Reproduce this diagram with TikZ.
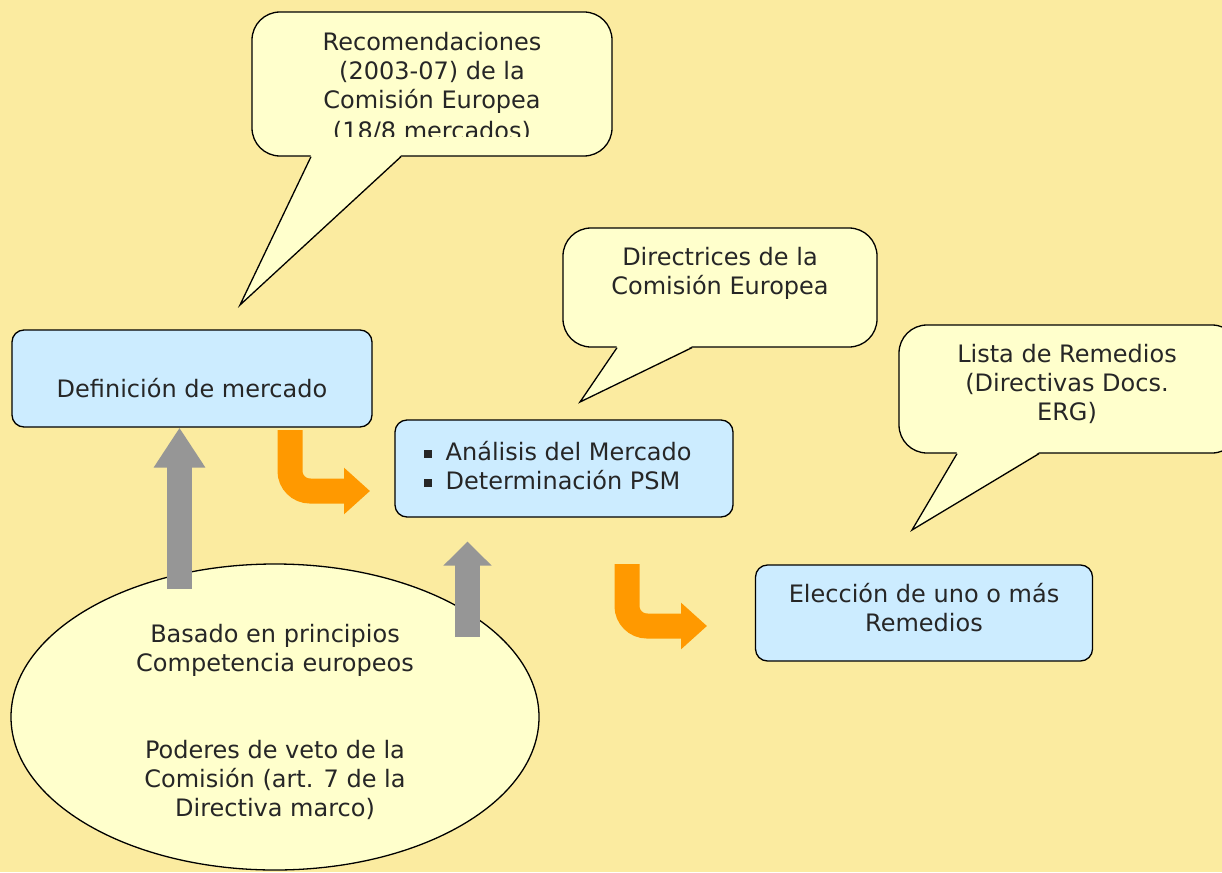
\documentclass[tikz,border=0pt]{standalone}
\usepackage{fontspec}
\setmainfont{DejaVu Sans}
\usepackage{tikz}
\usetikzlibrary{arrows.meta,calc,shapes.geometric}
\definecolor{bgyellow}{HTML}{FBEBA0}
\definecolor{callyellow}{HTML}{FFFFCC}
\definecolor{boxblue}{HTML}{CCECFF}
\definecolor{arrgray}{HTML}{969696}
\definecolor{arrorange}{HTML}{FF9900}
\newcommand{\sqbul}{\rule[2.5pt]{8pt}{8pt}\hspace{14pt}}

\begin{document}
\begin{tikzpicture}[x=1pt,y=-1pt,font=\fontsize{24}{29}\selectfont,
      line width=1.3pt]
    \tikzstyle{box}=[draw=black,fill=boxblue,rounded corners=12pt]
    \tikzstyle{bubble}=[draw=black,fill=callyellow,rounded corners=28pt]
    \tikzstyle{txt}=[align=center,text=black!85,inner sep=0pt]
    \tikzstyle{blockup}=[draw=arrgray,line width=25pt]
    \tikzstyle{bendarr}=[draw=arrorange,line width=25pt,-{Triangle[length=26pt,width=45pt]}]

    \useasboundingbox (0,0) rectangle (1222,872);
    \clip (0,0) rectangle (1222,872);
    \fill[bgyellow] (0,0) rectangle (1222,872);

    \node[draw=black,fill=callyellow,ellipse,inner sep=0pt,
      minimum width=528pt,minimum height=306pt] (base) at (275,717) {};
    \node[txt] (basetxt) at (275,722)
      {Basado en principios\\Competencia europeos\\[58pt]Poderes de veto de la\\Comisión (art. 7 de la\\Directiva marco)};

    \coordinate (up1) at (179.5,589);
    \coordinate (up2) at (467.5,637);
    \node[box,minimum width=360pt,minimum height=97pt] (defmer) at (192,378.5) {};
    \node[box,minimum width=338pt,minimum height=97pt] (ana) at (564,468.5) {};
    \node[box,minimum width=337pt,minimum height=96pt] (elec) at (924,613) {};
    \draw[blockup,-{Triangle[length=40pt,width=49pt]}] (up1) -- (up1 |- defmer.south);
    \draw[blockup,-{Triangle[length=24pt,width=47pt]}] (up2) -- ($(up2 |- ana.south)+(0,24)$);

    \node[txt] (defmertxt) at (192,388) {Definición de mercado};
    \node[txt,align=left,anchor=west] (anatxt) at (423,466) {\sqbul Análisis del Mercado\\\sqbul Determinación PSM};
    \node[txt] (electxt) at (924,608) {Elección de uno o más\\Remedios};

    \node[bubble,minimum width=360pt,minimum height=144pt] (recom) at (432,84) {};
    \coordinate (recomtip) at (240,305);
    \fill[callyellow] ($(recom.south)+(-121,-1.5)$) -- (recomtip) -- ($(recom.south)+(-31,-1.5)$) -- cycle;
    \draw ($(recom.south)+(-121,0)$) -- (recomtip) -- ($(recom.south)+(-31,0)$);
    \begin{scope}
      \clip (252,12) rectangle (612,136);
      \node[txt] (recomtxt) at (432,87) {Recomendaciones\\(2003-07) de la\\Comisión Europea\\[2pt](18/8 mercados)};
    \end{scope}

    \node[bubble,minimum width=314pt,minimum height=119pt] (direc) at (720,287.5) {};
    \coordinate (directip) at (580,402);
    \fill[callyellow] ($(direc.south)+(-103,-1.5)$) -- (directip) -- ($(direc.south)+(-28,-1.5)$) -- cycle;
    \draw ($(direc.south)+(-103,0)$) -- (directip) -- ($(direc.south)+(-28,0)$);
    \node[txt] (directxt) at (720,273) {Directrices de la\\Comisión Europea};

    \node[bubble,minimum width=341pt,minimum height=128pt] (lista) at (1069.5,389) {};
    \coordinate (listatip) at (912,530);
    \fill[callyellow] ($(lista.south)+(-112.5,-1.5)$) -- (listatip) -- ($(lista.south)+(-30.5,-1.5)$) -- cycle;
    \draw ($(lista.south)+(-112.5,0)$) -- (listatip) -- ($(lista.south)+(-30.5,0)$);
    \node[txt] (listatxt) at (1067,384) {Lista de Remedios\\(Directivas Docs.\\ERG)};

    \coordinate (bend1) at (290,430);
    \coordinate (bend2) at (627,564);
    \draw[bendarr] (bend1) [rounded corners=20pt] |- ($(bend1)+(80,61)$);
    \draw[bendarr] (bend2) [rounded corners=20pt] |- ($(bend2)+(80,62)$);
  \end{tikzpicture}
\end{document}
